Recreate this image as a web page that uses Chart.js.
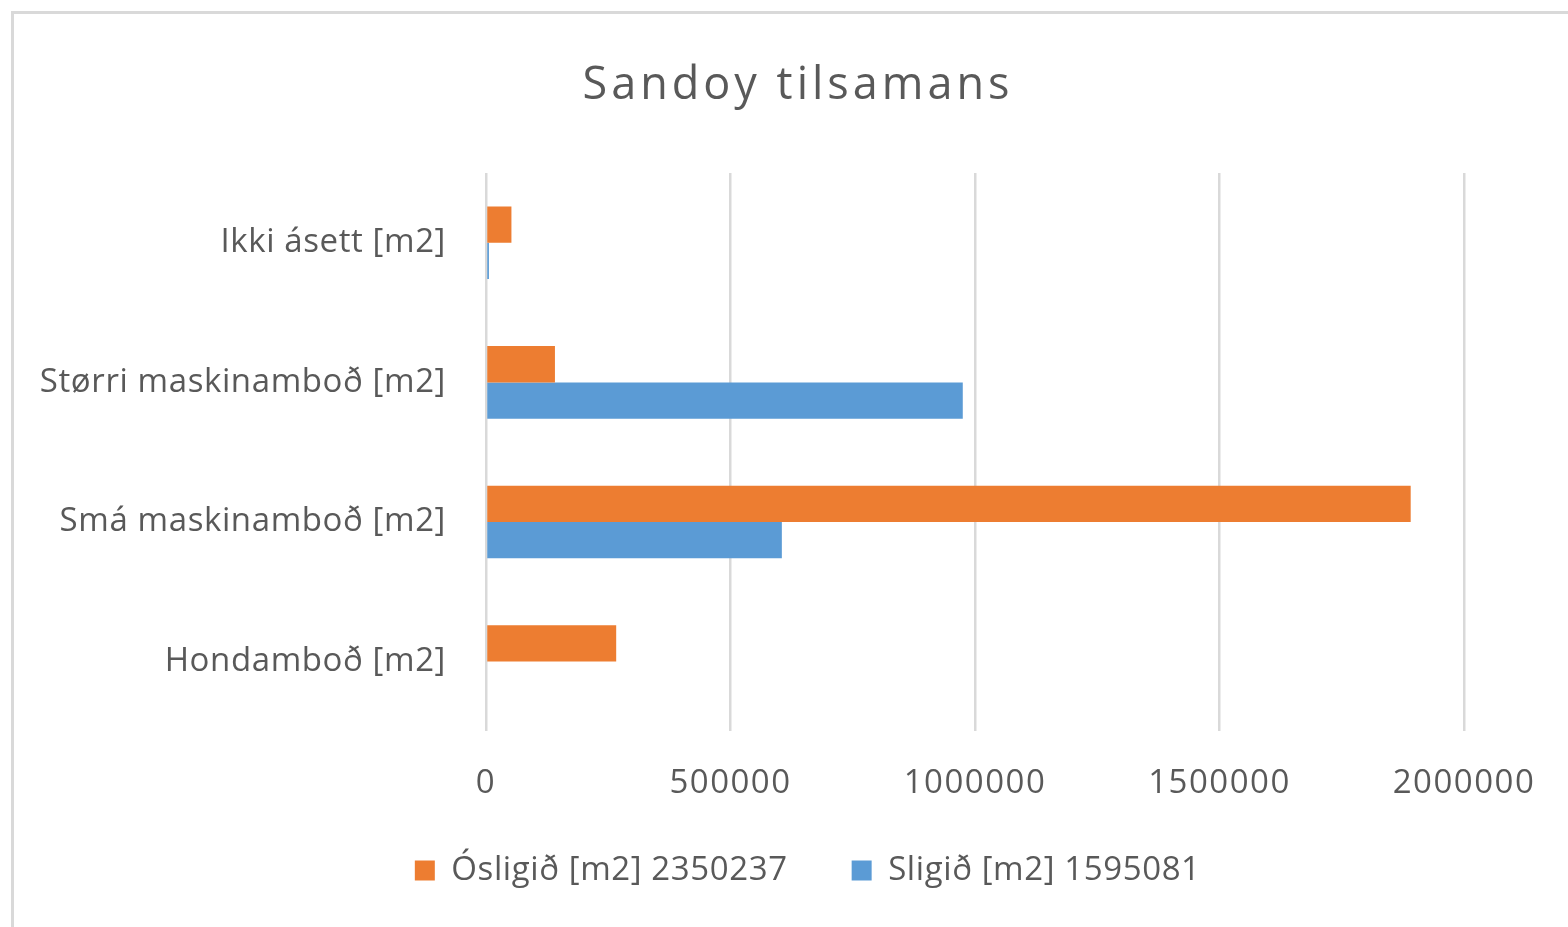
<!DOCTYPE html>
<html>
<head>
<meta charset="utf-8">
<script src="https://cdn.jsdelivr.net/npm/chart.js@4"></script>
<style>
  html, body { margin: 0; padding: 0; background: #ffffff; overflow: hidden; }
  #frame { position: absolute; left: 11px; top: 11px; width: 1600px; height: 960px; border: 3px solid #d9d9d9; box-sizing: border-box; }
  #wrap { position: absolute; left: 0; top: 0; width: 1568px; height: 942px; }
</style>
</head>
<body>
<div id="frame"></div>
<div id="wrap"><canvas id="c" width="1568" height="942"></canvas></div>
<script>
const chartTitle = 'Sandoy tilsamans';
const categories = ['Ikki ásett [m2]', 'Størri maskinamboð [m2]', 'Smá maskinamboð [m2]', 'Hondamboð [m2]'];
const seriesNames = ['Ósligið [m2] 2350237', 'Sligið [m2] 1595081'];
const osligidValues = [52000, 141000, 1891000, 266237];
const sligidValues = [6000, 975000, 605000, 0];
const xTickLabels = ['0', '500000', '1000000', '1500000', '2000000'];
const seriesColors = ['#ED7D31', '#5B9BD5'];

const FONT = "'Open Sans', 'Noto Sans', sans-serif";
const TEXT = '#595959';

function withSpacing(chart, obj, method, spacing) {
  if (!obj) return;
  const flag = '_wrapped_' + method;
  if (obj[flag]) return;
  const orig = obj[method];
  obj[method] = function () {
    const c = chart.ctx;
    c.save();
    try { c.letterSpacing = spacing; } catch (e) {}
    const r = orig.apply(this, arguments);
    c.restore();
    return r;
  };
  obj[flag] = true;
}

const tweak = {
  id: 'tweak',
  afterLayout(chart) {
    const t = chart.titleBlock;
    if (t) {
      withSpacing(chart, t, 'draw', '4px');
      t.left += 48; t.right += 48;
    }
    withSpacing(chart, chart.scales.x, 'drawLabels', '1.5px');
    withSpacing(chart, chart.scales.y, 'drawLabels', '0.6px');
    const lg = chart.legend;
    if (lg) {
      withSpacing(chart, lg, 'draw', '0.6px');
      const dy = 790 - lg.top;
      lg.top += dy; lg.bottom += dy;
      lg.left += 46; lg.right += 46;
    }
  }
};

new Chart(document.getElementById('c'), {
  type: 'bar',
  data: {
    labels: categories,
    datasets: [
      { label: seriesNames[0], data: osligidValues, backgroundColor: seriesColors[0], borderWidth: 0 },
      { label: seriesNames[1], data: sligidValues, backgroundColor: seriesColors[1], borderWidth: 0 }
    ]
  },
  plugins: [tweak],
  options: {
    indexAxis: 'y',
    responsive: false,
    animation: false,
    devicePixelRatio: 1,
    datasets: { bar: { barPercentage: 1.0, categoryPercentage: 0.52 } },
    layout: { padding: { left: 36, right: 104, top: 0, bottom: 0 } },
    plugins: {
      tooltip: { enabled: false },
      title: {
        display: true,
        text: chartTitle,
        color: TEXT,
        font: { family: FONT, size: 45, weight: 'normal' },
        padding: { top: 59, bottom: 60 }
      },
      legend: {
        display: true,
        position: 'bottom',
        labels: {
          color: TEXT,
          font: { family: FONT, size: 33 },
          boxWidth: 20,
          boxHeight: 20,
          padding: 64
        }
      }
    },
    scales: {
      x: {
        min: 0,
        max: 2000000,
        grid: { color: '#d9d9d9', lineWidth: 2.5, drawTicks: false },
        border: { display: false },
        ticks: {
          stepSize: 500000,
          color: TEXT,
          font: { family: FONT, size: 33 },
          padding: 32,
          maxRotation: 0,
          callback: (v, i) => xTickLabels[i]
        }
      },
      y: {
        grid: { display: false, drawTicks: false },
        border: { display: false },
        ticks: {
          color: TEXT,
          font: { family: FONT, size: 33 },
          padding: 40
        },
        afterFit: (s) => { s.width = 450; }
      }
    }
  }
});
</script>
</body>
</html>
